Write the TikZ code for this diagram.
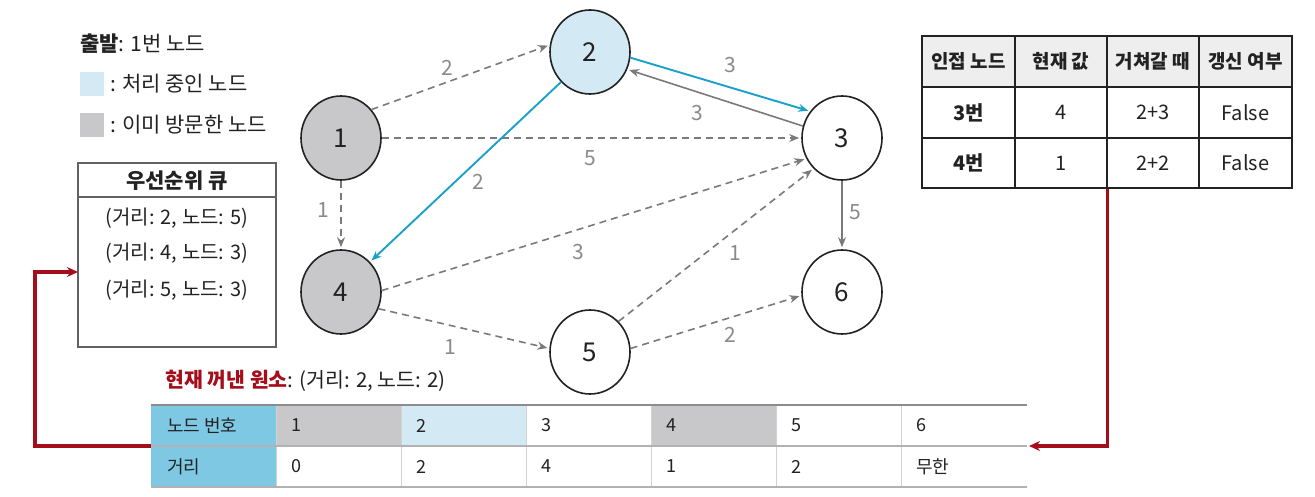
\documentclass[tikz,border=0pt]{standalone}
\usepackage{fontspec}
\setmainfont{Noto Sans CJK KR}
\usetikzlibrary{shapes.geometric,arrows.meta}
\definecolor{edgegray}{HTML}{7A7A7A}
\definecolor{labgray}{HTML}{8A8A8A}
\definecolor{nodeblue}{HTML}{D3EAF5}
\definecolor{nodegray}{HTML}{C8C8CA}
\definecolor{hlblue}{HTML}{1BA1C9}
\definecolor{hdrblue}{HTML}{7EC8E3}
\definecolor{darkred}{HTML}{A50D1B}
\definecolor{hdrgray}{HTML}{EEEEEE}
\definecolor{textdark}{HTML}{222222}
\tikzset{
  gnode/.style={ellipse, draw=textdark, line width=1.6pt, minimum width=80pt, minimum height=84pt, inner sep=0pt, font=\fontsize{26}{30}\selectfont, text=textdark},
  dashedge/.style={draw=edgegray, line width=1.6pt, dash pattern=on 7pt off 5pt, -{Stealth[length=10pt,width=8pt]}, shorten >=2pt},
  solidedge/.style={draw=edgegray, line width=1.6pt, -{Stealth[length=10pt,width=8pt]}, shorten >=2pt},
  blueedge/.style={draw=hlblue, line width=1.9pt, -{Stealth[length=10pt,width=8pt]}, shorten >=2pt},
  elabel/.style={text=labgray, font=\fontsize{21}{24}\selectfont, inner sep=1pt},
  legtext/.style={anchor=west, text=textdark, font=\fontsize{21}{24}\selectfont, inner sep=0pt},
  qtext/.style={text=textdark, font=\fontsize{20}{24}\selectfont, inner sep=0pt},
  tcell/.style={draw=textdark, line width=1.5pt, minimum height=51pt, inner sep=0pt, text=textdark},
  bcell/.style={anchor=west, text=textdark, font=\fontsize{18}{22}\selectfont, inner sep=0pt},
  redline/.style={draw=darkred, line width=3.2pt, -{Stealth[length=11pt,width=10pt]}},
}
\begin{document}
\begin{tikzpicture}[x=1pt,y=-1pt]
\useasboundingbox (0,0) rectangle (1315,497);
\fill[white] (0,0) rectangle (1315,497);

% legend
\node[legtext] (start) at (80,44) {\textbf{출발}: 1번 노드};
\node[fill=nodeblue, minimum width=24pt, minimum height=24pt, inner sep=0pt] (legb) at (92,84) {};
\node[legtext] (legbt) at (110,84) {: 처리 중인 노드};
\node[fill=nodegray, minimum width=24pt, minimum height=24pt, inner sep=0pt] (legg) at (92,125) {};
\node[legtext] (leggt) at (110,125) {: 이미 방문한 노드};

% priority queue
\node[draw=edgegray!80!black, line width=1.6pt, minimum width=198pt, minimum height=184pt, inner sep=0pt] (q) at (177,255) {};
\draw[draw=edgegray!80!black, line width=1.4pt] (78,197) -- (276,197);
\node[qtext, font=\bfseries\fontsize{21}{24}\selectfont] (qh) at (177,181) {우선순위 큐};
\node[qtext] (q1) at (177,218) {(거리: 2, 노드: 5)};
\node[qtext] (q2) at (177,253) {(거리: 4, 노드: 3)};
\node[qtext] (q3) at (177,290) {(거리: 5, 노드: 3)};

% graph nodes
\node[gnode, fill=nodegray] (n1) at (341,138) {1};
\node[gnode, fill=nodeblue] (n2) at (590,52) {2};
\node[gnode, fill=white] (n3) at (842,138) {3};
\node[gnode, fill=nodegray] (n4) at (341,292) {4};
\node[gnode, fill=white] (n5) at (590,352) {5};
\node[gnode, fill=white] (n6) at (842,292) {6};

% edges
\draw[dashedge] (n1.43) -- (n2.170);
\draw[dashedge] (n1.east) -- (n3.west);
\draw[dashedge] (n1.south) -- (n4.north);
\draw[blueedge] (n2.-8) -- (n3.140);
\draw[solidedge] (n3.163) -- (n2.-25);
\draw[blueedge] (n2.226) -- (n4.46);
\draw[dashedge] (n4.2) -- (n3.210);
\draw[dashedge] (n5.47) -- (n3.227);
\draw[dashedge] (n4.-24) -- (n5.175);
\draw[dashedge] (n5.5) -- (n6.185);
\draw[solidedge] (n3.south) -- (n6.north);

% edge labels
\node[elabel] (l12) at (447,68) {2};
\node[elabel] (l13) at (590,158) {5};
\node[elabel] (l14) at (323,210) {1};
\node[elabel] (l23) at (730,65) {3};
\node[elabel] (l32) at (697,113) {3};
\node[elabel] (l24) at (478,182) {2};
\node[elabel] (l43) at (578,252) {3};
\node[elabel] (l53) at (735,253) {1};
\node[elabel] (l36) at (855,212) {5};
\node[elabel] (l45) at (450,347) {1};
\node[elabel] (l56) at (730,335) {2};

% top-right table
\begin{scope}[every node/.style={tcell}]
\node[fill=hdrgray, minimum width=93pt, font=\bfseries\fontsize{19}{22}\selectfont] (t11) at (968.5,61.5) {인접 노드};
\node[fill=hdrgray, minimum width=92pt, font=\bfseries\fontsize{19}{22}\selectfont] (t12) at (1061,61.5) {현재 값};
\node[fill=hdrgray, minimum width=92pt, font=\bfseries\fontsize{19}{22}\selectfont] (t13) at (1153,61.5) {거쳐갈 때};
\node[fill=hdrgray, minimum width=93pt, font=\bfseries\fontsize{19}{22}\selectfont] (t14) at (1245.5,61.5) {갱신 여부};
\node[fill=white, minimum width=93pt, font=\bfseries\fontsize{20}{24}\selectfont] (t21) at (968.5,112.5) {3번};
\node[fill=white, minimum width=92pt, font=\fontsize{20}{24}\selectfont] (t22) at (1061,112.5) {4};
\node[fill=white, minimum width=92pt, font=\fontsize{20}{24}\selectfont] (t23) at (1153,112.5) {2+3};
\node[fill=white, minimum width=93pt, font=\fontsize{20}{24}\selectfont] (t24) at (1245.5,112.5) {False};
\node[fill=white, minimum width=93pt, minimum height=50pt, font=\bfseries\fontsize{20}{24}\selectfont] (t31) at (968.5,163) {4번};
\node[fill=white, minimum width=92pt, minimum height=50pt, font=\fontsize{20}{24}\selectfont] (t32) at (1061,163) {1};
\node[fill=white, minimum width=92pt, minimum height=50pt, font=\fontsize{20}{24}\selectfont] (t33) at (1153,163) {2+2};
\node[fill=white, minimum width=93pt, minimum height=50pt, font=\fontsize{20}{24}\selectfont] (t34) at (1245.5,163) {False};
\end{scope}

% current popped element
\node[anchor=west, inner sep=0pt, font=\fontsize{20.5}{24}\selectfont, text=textdark] (cur) at (165,381) {\textcolor{darkred}{\bfseries 현재 꺼낸 원소}: (거리: 2, 노드: 2)};

% bottom table
\fill[hdrblue] (151,405) rectangle (276,487);
\fill[nodegray] (276,405) rectangle (401,446);
\fill[nodeblue] (401,405) rectangle (526,446);
\fill[nodegray] (651,405) rectangle (776,446);
\foreach \x in {276,401,526,651,776,901} \draw[draw=black!18, line width=1pt] (\x,405) -- (\x,487);
\draw[draw=black!45, line width=1.6pt] (151,405) -- (1027,405);
\draw[draw=black!30, line width=1.2pt] (151,446) -- (1027,446);
\draw[draw=black!30, line width=1.6pt] (151,487) -- (1027,487);
\node[bcell] (bh1) at (167,425.5) {노드 번호};
\node[bcell] (bh2) at (167,466.5) {거리};
\node[bcell] (b11) at (291,425.5) {1};
\node[bcell] (b12) at (416,425.5) {2};
\node[bcell] (b13) at (541,425.5) {3};
\node[bcell] (b14) at (666,425.5) {4};
\node[bcell] (b15) at (791,425.5) {5};
\node[bcell] (b16) at (916,425.5) {6};
\node[bcell] (b21) at (291,466.5) {0};
\node[bcell] (b22) at (416,466.5) {2};
\node[bcell] (b23) at (541,466.5) {4};
\node[bcell] (b24) at (666,466.5) {1};
\node[bcell] (b25) at (791,466.5) {2};
\node[bcell] (b26) at (916,466.5) {무한};

% red connectors
\coordinate (bl) at (151,446);
\coordinate (qin) at (78,272);
\coordinate (bre) at (1029,446);
\draw[redline] (bl) -- ++(-116,0) |- (qin);
\draw[redline] (t32.south east) |- (bre);
\end{tikzpicture}
\end{document}
